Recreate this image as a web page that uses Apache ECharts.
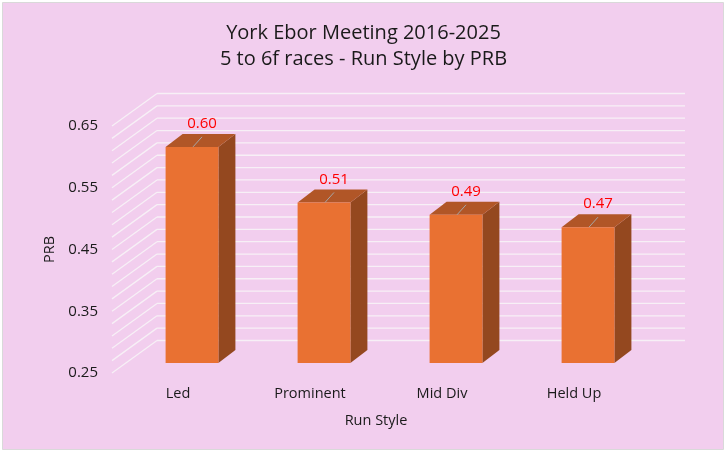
<!DOCTYPE html>
<html>
<head>
<meta charset="utf-8">
<script src="https://cdn.jsdelivr.net/npm/echarts@6/dist/echarts.min.js"></script>
<style>
  html, body { margin: 0; padding: 0; background: #ffffff; }
  #chart { width: 727px; height: 453px; }
</style>
</head>
<body>
<div id="chart"></div>
<script>
// Run style categories and their PRB values
const categories = ['Led', 'Prominent', 'Mid Div', 'Held Up'];
const prbValues = [0.60, 0.51, 0.49, 0.47];

// Axis range and gridline step (Excel 3D walls)
const axisMin = 0.25;
const axisMax = 0.65;
const labelStep = 0.1;
const wallTicks = [0.25, 0.27, 0.29, 0.31, 0.33, 0.35, 0.37, 0.39, 0.41, 0.43, 0.45,
  0.47, 0.49, 0.51, 0.53, 0.55, 0.57, 0.59, 0.61, 0.63, 0.65];

// Fake 3D projection offsets (pixels)
const WALL_DX = 45, WALL_DY = -32.5;   // back wall offset
const BAR_DX = 14, BAR_DY = -10;       // bar front face offset
const DEPTH_DX = 17, DEPTH_DY = -13;   // bar depth

const FONT = '"Open Sans", sans-serif';
const colors = {
  front: '#E97132',
  side: '#94481F',
  top: '#B15627',
  grid: '#F7F0F6',
  label: '#FF0000',
  text: '#1A1A1A'
};

const chart = echarts.init(document.getElementById('chart'));

const option = {
  animation: false,
  backgroundColor: '#ffffff',
  graphic: [{
    type: 'rect',
    z: -10,
    shape: { x: 2.5, y: 2.5, width: 721, height: 447 },
    style: { fill: '#F2CEEE', stroke: '#D9D9D9', lineWidth: 1 }
  }],
  title: {
    text: 'York Ebor Meeting 2016-2025\n5 to 6f races - Run Style by PRB',
    left: 'center',
    top: 15,
    textStyle: {
      fontFamily: FONT,
      fontSize: 20,
      fontWeight: 'normal',
      color: colors.text,
      lineHeight: 26
    }
  },
  grid: {
    left: 112,
    right: 87,
    top: 126,
    bottom: 80
  },
  xAxis: {
    type: 'category',
    data: categories,
    name: 'Run Style',
    nameLocation: 'middle',
    nameGap: 40,
    nameTextStyle: { fontFamily: FONT, fontSize: 14.5, color: colors.text },
    axisLine: { show: false },
    axisTick: { show: false },
    axisLabel: { fontFamily: FONT, fontSize: 14.5, color: colors.text, margin: 13 }
  },
  yAxis: {
    type: 'value',
    min: axisMin,
    max: axisMax,
    interval: labelStep,
    name: 'PRB',
    nameLocation: 'middle',
    nameGap: 54,
    nameTextStyle: { fontFamily: FONT, fontSize: 14.5, color: colors.text },
    axisLine: { show: false },
    axisTick: { show: false },
    splitLine: { show: false },
    axisLabel: {
      fontFamily: FONT,
      fontSize: 15,
      color: colors.text,
      margin: 14,
      formatter: v => v.toFixed(2)
    }
  },
  series: [
    {
      // Side and back walls with gridlines
      type: 'custom',
      z: 1,
      silent: true,
      data: [[0, axisMin]],
      renderItem: (params, api) => {
        const cs = params.coordSys;
        const children = [];
        wallTicks.forEach(v => {
          const y = api.coord([0, v])[1];
          children.push({
            type: 'line',
            shape: { x1: cs.x, y1: y, x2: cs.x + WALL_DX, y2: y + WALL_DY },
            style: { stroke: colors.grid, lineWidth: 1.3 }
          });
          children.push({
            type: 'line',
            shape: { x1: cs.x + WALL_DX, y1: y + WALL_DY, x2: cs.x + cs.width + WALL_DX, y2: y + WALL_DY },
            style: { stroke: colors.grid, lineWidth: 1.3 }
          });
        });
        return { type: 'group', children: children };
      }
    },
    {
      // 3D bars
      type: 'custom',
      z: 2,
      data: prbValues.map((v, i) => [i, v]),
      renderItem: (params, api) => {
        const idx = api.value(0);
        const val = api.value(1);
        const top = api.coord([idx, val]);
        const base = api.coord([idx, axisMin]);
        const w = api.size([1, 0])[0] * 0.4;
        const x0 = top[0] - w / 2 + BAR_DX;
        const x1 = x0 + w;
        const yT = top[1] + BAR_DY;
        const yB = base[1] + BAR_DY;
        const cx = (x0 + x1) / 2;
        return {
          type: 'group',
          children: [
            {
              type: 'polygon',
              shape: { points: [[x1, yT], [x1 + DEPTH_DX, yT + DEPTH_DY], [x1 + DEPTH_DX, yB + DEPTH_DY], [x1, yB]] },
              style: { fill: colors.side }
            },
            {
              type: 'polygon',
              shape: { points: [[x0, yT], [x0 + DEPTH_DX, yT + DEPTH_DY], [x1 + DEPTH_DX, yT + DEPTH_DY], [x1, yT]] },
              style: { fill: colors.top }
            },
            {
              type: 'rect',
              shape: { x: x0, y: yT, width: w, height: yB - yT },
              style: { fill: colors.front }
            },
            {
              type: 'line',
              shape: { x1: cx + 1, y1: yT, x2: cx + 10, y2: yT - 10 },
              style: { stroke: '#A6A6A6', lineWidth: 1 }
            },
            {
              type: 'text',
              style: {
                x: cx + 10,
                y: yT - 23,
                text: val.toFixed(2),
                fill: colors.label,
                font: '15px ' + FONT,
                align: 'center',
                verticalAlign: 'middle'
              }
            }
          ]
        };
      }
    }
  ]
};

chart.setOption(option);
</script>
</body>
</html>
